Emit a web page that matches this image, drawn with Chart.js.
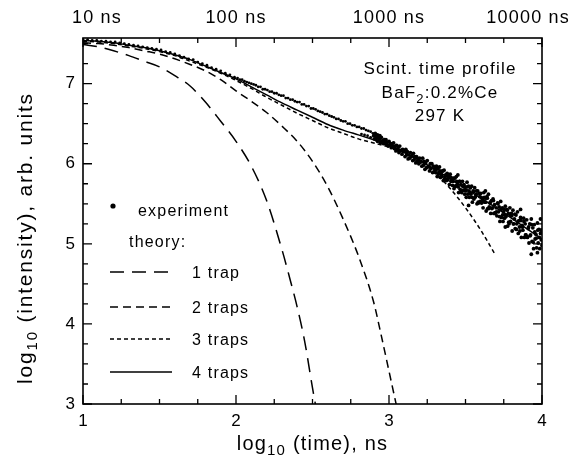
<!DOCTYPE html>
<html><head><meta charset="utf-8">
<script src="https://cdn.jsdelivr.net/npm/chart.js@4.4.1/dist/chart.umd.min.js"></script>
<style>html,body{margin:0;padding:0;background:#fff;}canvas{display:block;}</style>
</head><body>
<canvas id="c" width="572" height="467"></canvas>
<script>
// ---- tick labels ----
const xTickVals = [1, 2, 3, 4];
const yTickVals = [3, 4, 5, 6, 7];
const topTickVals = [1, 2, 3, 4];
const topTickLabels = ['10 ns', '100 ns', '1000 ns', '10000 ns'];
const seriesNames = ['experiment', '1 trap', '2 traps', '3 traps', '4 traps'];

// ---- theory curves ----
const trap1X = [1.0,1.1,1.2,1.3,1.4,1.5,1.6,1.7,1.8,1.9,2.0,2.1,2.2,2.3,2.35,2.4,2.45,2.5,2.53];
const trap1Y = [7.49,7.46,7.41,7.35,7.28,7.21,7.10,6.97,6.77,6.53,6.28,5.97,5.54,4.93,4.58,4.21,3.77,3.20,2.88];
const trap2X = [1.0,1.1,1.2,1.3,1.4,1.5,1.6,1.7,1.8,1.9,2.0,2.1,2.2,2.3,2.4,2.5,2.6,2.7,2.8,2.9,2.95,3.0,3.05,3.07];
const trap2Y = [7.51,7.50,7.48,7.45,7.41,7.37,7.31,7.24,7.16,7.05,6.91,6.78,6.64,6.47,6.28,6.03,5.71,5.31,4.85,4.27,3.85,3.41,2.97,2.80];
const trap3X = [1.0,1.1,1.2,1.3,1.4,1.5,1.6,1.7,1.8,1.9,2.0,2.1,2.2,2.3,2.4,2.5,2.6,2.7,2.8,2.9,3.0,3.1,3.2,3.3,3.4,3.5,3.6,3.69];
const trap3Y = [7.53,7.52,7.50,7.47,7.44,7.40,7.35,7.28,7.21,7.13,7.04,6.94,6.83,6.73,6.63,6.54,6.45,6.38,6.31,6.26,6.21,6.15,6.04,5.89,5.69,5.45,5.17,4.88];
const trap4X = [1.0,1.1,1.2,1.3,1.4,1.5,1.6,1.7,1.8,1.9,2.0,2.1,2.2,2.3,2.4,2.5,2.6,2.7,2.8,2.9,3.0,3.1,3.2,3.3,3.4,3.5,3.6,3.7,3.8,3.9,4.0];
const trap4Y = [7.54,7.53,7.51,7.48,7.45,7.41,7.36,7.30,7.22,7.14,7.06,6.96,6.86,6.76,6.67,6.58,6.49,6.42,6.36,6.30,6.24,6.14,6.04,5.93,5.81,5.69,5.57,5.45,5.32,5.19,5.06];

// ---- experiment: early part and upper track ----
const expTrackX = [1.00,1.03,1.06,1.09,1.12,1.15,1.18,1.21,1.24,1.27,1.30,1.33,1.36,1.39,1.42,1.45,1.48,1.51,1.54,1.57,1.60,1.63,1.66,1.69,1.72,1.75,1.78,1.81,1.84,1.87,1.90,1.93,1.96,1.99,
2.010,2.025,2.040,2.055,2.070,2.085,2.100,2.115,2.130,2.145,2.160,2.175,2.190,2.205,2.220,2.235,2.250,2.265,2.280,2.295,2.310,2.325,2.340,2.355,2.370,2.385,2.400,2.415,2.430,2.445,2.460,2.475,2.490,2.505,2.520,2.535,2.550,2.565,2.580,2.595,2.610,2.625,2.640,2.655,2.670,2.685,2.700,2.715,2.730,2.745,2.760,2.775,2.790,2.805,2.820,2.835,2.850,2.865,2.880,2.895,2.910,2.925,2.940,
2.82,2.84,2.86,2.88];
const expTrackY = [7.55,7.55,7.54,7.54,7.53,7.53,7.52,7.52,7.51,7.50,7.49,7.48,7.47,7.46,7.45,7.44,7.43,7.42,7.40,7.39,7.37,7.35,7.33,7.31,7.30,7.27,7.25,7.23,7.20,7.18,7.16,7.13,7.11,7.08,
7.07,7.05,7.05,7.03,7.02,7.01,7.00,6.99,6.98,6.96,6.96,6.93,6.93,6.92,6.90,6.90,6.88,6.88,6.86,6.85,6.85,6.82,6.82,6.80,6.80,6.78,6.77,6.77,6.74,6.74,6.72,6.72,6.69,6.69,6.68,6.66,6.65,6.64,6.62,6.62,6.60,6.59,6.58,6.56,6.56,6.54,6.53,6.53,6.50,6.50,6.48,6.48,6.46,6.46,6.44,6.44,6.42,6.41,6.40,6.38,6.38,6.36,6.35,
6.37,6.36,6.35,6.33];

// ---- experiment: noisy late band ----
const expBandX = [2.90,2.905,2.91,2.915,2.92,2.925,2.93,2.935,2.94,2.945,2.95,2.955,2.96,2.965,2.97,2.975,2.98,2.985,2.99,2.995,
3.00,3.005,3.01,3.015,3.02,3.025,3.03,3.035,3.04,3.045,3.05,3.055,3.06,3.065,3.07,3.075,3.08,3.085,3.09,3.095,
3.10,3.105,3.11,3.115,3.12,3.125,3.13,3.135,3.14,3.145,3.15,3.155,3.16,3.165,3.17,3.175,3.18,3.185,3.19,3.195,
3.20,3.205,3.21,3.215,3.22,3.225,3.23,3.235,3.24,3.245,3.25,3.255,3.26,3.265,3.27,3.275,3.28,3.285,3.29,3.295,
3.30,3.305,3.31,3.315,3.32,3.325,3.33,3.335,3.34,3.345,3.35,3.355,3.36,3.365,3.37,3.375,3.38,3.385,3.39,3.395,
3.40,3.405,3.41,3.415,3.42,3.425,3.43,3.435,3.44,3.445,3.45,3.455,3.46,3.465,3.47,3.475,3.48,3.485,3.49,3.495,
3.50,3.505,3.51,3.515,3.52,3.525,3.53,3.535,3.54,3.545,3.55,3.555,3.56,3.565,3.57,3.575,3.58,3.585,3.59,3.595,
3.60,3.605,3.61,3.615,3.62,3.625,3.63,3.635,3.64,3.645,3.65,3.655,3.66,3.665,3.67,3.675,3.68,3.685,3.69,3.695,
3.70,3.705,3.71,3.715,3.72,3.725,3.73,3.735,3.74,3.745,3.75,3.755,3.76,3.765,3.77,3.775,3.78,3.785,3.79,3.795,
3.80,3.805,3.81,3.815,3.82,3.825,3.83,3.835,3.84,3.845,3.85,3.855,3.86,3.865,3.87,3.875,3.88,3.885,3.89,3.895,
3.90,3.905,3.91,3.915,3.92,3.925,3.93,3.935,3.94,3.945,3.95,3.955,3.96,3.965,3.97,3.975,3.98,3.985,3.99,3.995,
4.00,4.00,3.63,3.76,3.86,3.93,3.97,3.99,3.52,3.45];
const expBandY = [6.35,6.31,6.35,6.31,6.32,6.28,6.33,6.29,6.31,6.26,6.33,6.28,6.29,6.25,6.30,6.27,6.30,6.24,6.27,6.22,
6.28,6.23,6.25,6.20,6.25,6.22,6.26,6.19,6.22,6.16,6.23,6.17,6.20,6.14,6.22,6.16,6.17,6.12,6.18,6.15,
6.16,6.09,6.18,6.11,6.15,6.06,6.11,6.07,6.14,6.09,6.10,6.04,6.13,6.05,6.09,6.01,6.09,6.03,6.05,6.00,
6.07,6.02,6.03,5.97,6.07,5.98,6.03,5.93,6.01,5.95,6.04,5.96,5.97,5.91,6.00,5.94,6.00,5.89,5.97,5.90,
5.94,5.89,5.97,5.84,5.94,5.88,5.96,5.83,5.89,5.84,5.91,5.79,5.92,5.84,5.86,5.79,5.88,5.80,5.85,5.74,
5.87,5.78,5.82,5.73,5.78,5.69,5.82,5.72,5.84,5.74,5.77,5.64,5.78,5.68,5.74,5.64,5.78,5.67,5.74,5.62,
5.71,5.58,5.77,5.62,5.72,5.58,5.64,5.62,5.72,5.52,5.66,5.56,5.70,5.59,5.62,5.50,5.66,5.51,5.63,5.53,
5.63,5.51,5.56,5.45,5.64,5.52,5.57,5.41,5.59,5.44,5.62,5.46,5.51,5.38,5.54,5.45,5.56,5.38,5.49,5.39,
5.45,5.35,5.51,5.40,5.46,5.28,5.53,5.33,5.45,5.28,5.40,5.32,5.47,5.34,5.43,5.22,5.38,5.25,5.45,5.28,
5.38,5.16,5.42,5.25,5.31,5.19,5.36,5.25,5.40,5.13,5.29,5.16,5.33,5.08,5.23,5.17,5.32,5.08,5.25,5.11,
5.30,5.08,5.19,5.01,5.25,5.11,5.31,5.03,5.20,4.94,5.24,5.06,5.12,4.95,5.26,5.01,5.18,4.94,5.13,5.05,
5.17,4.98,5.66,5.21,5.43,4.87,4.89,5.31,5.48,5.86];
// extra band points (middle of the scatter) for the late, wider part
const expMidX = [3.3025,3.3125,3.3225,3.3325,3.3425,3.3525,3.3625,3.3725,3.3825,3.3925,
3.4025,3.4125,3.4225,3.4325,3.4425,3.4525,3.4625,3.4725,3.4825,3.4925,
3.5025,3.5125,3.5225,3.5325,3.5425,3.5525,3.5625,3.5725,3.5825,3.5925,
3.6025,3.6125,3.6225,3.6325,3.6425,3.6525,3.6625,3.6725,3.6825,3.6925,
3.7025,3.7125,3.7225,3.7325,3.7425,3.7525,3.7625,3.7725,3.7825,3.7925,
3.8025,3.8125,3.8225,3.8325,3.8425,3.8525,3.8625,3.8725,3.8825,3.8925,
3.9025,3.9125,3.9225,3.9325,3.9425,3.9525,3.9625,3.9725,3.9825,3.9925];
const expMidY = [5.93,5.95,5.87,5.91,5.86,5.91,5.81,5.85,5.81,5.85,
5.83,5.79,5.82,5.72,5.78,5.71,5.78,5.66,5.72,5.67,
5.66,5.71,5.66,5.70,5.58,5.65,5.58,5.66,5.52,5.59,
5.58,5.53,5.58,5.52,5.57,5.44,5.52,5.44,5.54,5.38,
5.40,5.50,5.34,5.43,5.36,5.43,5.36,5.42,5.27,5.36,
5.35,5.25,5.37,5.18,5.28,5.21,5.29,5.21,5.28,5.11,
5.09,5.21,5.10,5.24,5.02,5.15,5.07,5.17,5.08,5.17];

// ---- helpers ----
const zip = (xs, ys) => xs.map((v, i) => ({ x: v, y: ys[i] }));
const FONT = "'Liberation Sans', Arial, Helvetica, sans-serif";
const LS = '1.2px';
const dashes = { t1: [14, 8], t2: [8, 5], t3: [4, 3], t4: [] };

function setFont(ctx, size) { ctx.font = size + 'px ' + FONT; }
function partsWidth(ctx, parts) {
  let w = 0;
  for (const p of parts) { setFont(ctx, p.s); w += ctx.measureText(p.t).width; }
  return w;
}
function drawParts(ctx, parts, x, y, align) {
  const w = partsWidth(ctx, parts);
  let cx = align === 'center' ? x - w / 2 : (align === 'right' ? x - w : x);
  ctx.textAlign = 'left';
  ctx.textBaseline = 'alphabetic';
  for (const p of parts) {
    setFont(ctx, p.s);
    ctx.fillText(p.t, cx, y + (p.dy || 0));
    cx += ctx.measureText(p.t).width;
  }
}

const decor = {
  id: 'decor',
  afterDraw(chart) {
    const { ctx, chartArea: a, scales } = chart;
    const xs = scales.x, ys = scales.y;
    ctx.save();
    ctx.letterSpacing = LS;
    ctx.fillStyle = '#000';
    ctx.strokeStyle = '#000';
    // frame
    ctx.lineWidth = 1.6;
    ctx.setLineDash([]);
    ctx.strokeRect(a.left, a.top, a.right - a.left, a.bottom - a.top);
    // ticks (inward, all four sides)
    ctx.lineWidth = 1.3;
    ctx.beginPath();
    for (let v = xs.min; v <= xs.max + 1e-6; v += 0.25) {
      const px = xs.getPixelForValue(v);
      const len = Math.abs(v - Math.round(v)) < 1e-6 ? 9 : 5;
      ctx.moveTo(px, a.bottom); ctx.lineTo(px, a.bottom - len);
      ctx.moveTo(px, a.top); ctx.lineTo(px, a.top + len);
    }
    for (let v = ys.min; v <= ys.max + 1e-6; v += 0.25) {
      const py = ys.getPixelForValue(v);
      const len = Math.abs(v - Math.round(v)) < 1e-6 ? 9 : 5;
      ctx.moveTo(a.left, py); ctx.lineTo(a.left + len, py);
      ctx.moveTo(a.right, py); ctx.lineTo(a.right - len, py);
    }
    ctx.stroke();
    // top labels
    setFont(ctx, 18);
    ctx.textBaseline = 'middle';
    ctx.textAlign = 'center';
    topTickVals.forEach((v, i) => {
      let px = xs.getPixelForValue(v);
      const w = ctx.measureText(topTickLabels[i]).width;
      if (px - w / 2 < a.left - 11) px = a.left - 11 + w / 2;
      if (px + w / 2 > chart.width - 2) px = chart.width - 2 - w / 2;
      ctx.fillText(topTickLabels[i], px, 18);
    });
    // x axis title
    const cxMid = (a.left + a.right) / 2;
    drawParts(ctx, [{ t: 'log', s: 20 }, { t: '10', s: 15, dy: 5 }, { t: ' (time), ns', s: 20 }], cxMid, 450, 'center');
    // y axis title (rotated)
    ctx.save();
    ctx.letterSpacing = '1.8px';
    ctx.translate(32, (a.top + a.bottom) / 2 + 17);
    ctx.rotate(-Math.PI / 2);
    drawParts(ctx, [{ t: 'log', s: 21 }, { t: '10', s: 15, dy: 5 }, { t: ' (intensity), arb. units', s: 21 }], 0, 0, 'center');
    ctx.restore();
    // annotation
    const ax = 440;
    drawParts(ctx, [{ t: 'Scint. time profile', s: 17 }], ax, 74, 'center');
    drawParts(ctx, [{ t: 'BaF', s: 17 }, { t: '2', s: 13, dy: 5 }, { t: ':0.2%Ce', s: 17 }], ax, 98, 'center');
    drawParts(ctx, [{ t: '297 K', s: 17 }], ax, 121, 'center');
    // legend
    ctx.beginPath(); ctx.arc(113, 206, 2.6, 0, Math.PI * 2); ctx.fill();
    drawParts(ctx, [{ t: seriesNames[0], s: 16 }], 138, 216, 'left');
    drawParts(ctx, [{ t: 'theory:', s: 16 }], 129, 247, 'left');
    const rows = [[seriesNames[1], dashes.t1, 272], [seriesNames[2], dashes.t2, 307], [seriesNames[3], dashes.t3, 339], [seriesNames[4], dashes.t4, 372]];
    ctx.lineWidth = 1.5;
    for (const [name, d, yy] of rows) {
      ctx.setLineDash(d);
      ctx.beginPath(); ctx.moveTo(110, yy); ctx.lineTo(172, yy); ctx.stroke();
      ctx.setLineDash([]);
      drawParts(ctx, [{ t: name, s: 16 }], 192, yy + 6, 'left');
    }
    ctx.restore();
  }
};

const lineDs = (label, xs, ys, dash) => ({
  label, data: zip(xs, ys), showLine: true, pointRadius: 0, borderColor: '#000',
  borderWidth: 1.5, borderDash: dash, cubicInterpolationMode: 'monotone', fill: false
});

new Chart(document.getElementById('c'), {
  type: 'scatter',
  data: {
    datasets: [
      { label: seriesNames[0],
        data: zip(expTrackX, expTrackY).concat(zip(expBandX, expBandY), zip(expMidX, expMidY)),
        pointRadius: c => (c.raw && c.raw.x >= 2.9 ? 1.9 : 1.4),
        pointBorderWidth: 0, backgroundColor: '#000', borderColor: '#000', showLine: false },
      lineDs(seriesNames[1], trap1X, trap1Y, dashes.t1),
      lineDs(seriesNames[2], trap2X, trap2Y, dashes.t2),
      lineDs(seriesNames[3], trap3X, trap3Y, dashes.t3),
      lineDs(seriesNames[4], trap4X, trap4Y, dashes.t4)
    ]
  },
  options: {
    responsive: false,
    animation: false,
    events: [],
    layout: { padding: { top: 38, right: 30, left: 0, bottom: 0 } },
    plugins: { legend: { display: false }, tooltip: { enabled: false } },
    scales: {
      x: {
        type: 'linear', position: 'bottom', min: 1, max: 4,
        afterFit: s => { s.height = 63; },
        afterBuildTicks: s => { s.ticks = xTickVals.map(v => ({ value: v })); },
        grid: { display: false, drawTicks: false },
        border: { display: false },
        ticks: { padding: 7, color: '#000', font: { family: FONT, size: 17 }, maxRotation: 0, autoSkip: false }
      },
      y: {
        type: 'linear', position: 'left', min: 3, max: 7.57,
        afterFit: s => { s.width = 83; },
        afterBuildTicks: s => { s.ticks = yTickVals.map(v => ({ value: v })); },
        grid: { display: false, drawTicks: false },
        border: { display: false },
        ticks: { padding: 8, color: '#000', font: { family: FONT, size: 17 }, autoSkip: false }
      }
    }
  },
  plugins: [decor]
});
</script>
</body></html>
